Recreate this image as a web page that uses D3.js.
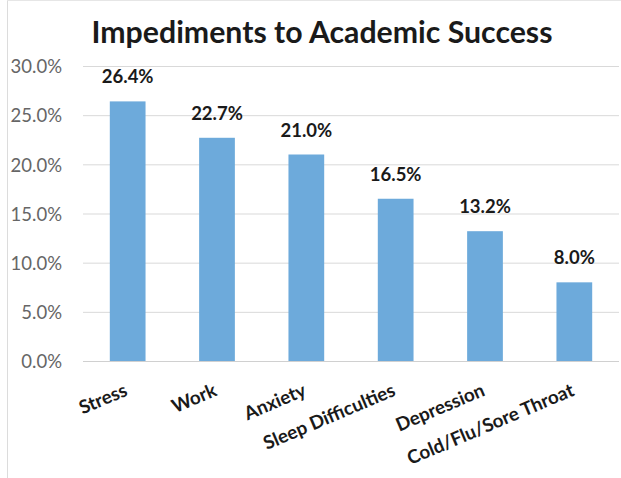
<!DOCTYPE html>
<html><head><meta charset="utf-8">
<script src="https://cdn.jsdelivr.net/npm/d3@7/dist/d3.min.js"></script>
<style>
html,body{margin:0;padding:0;background:#fff;}
svg{display:block;font-family:Lato,"Open Sans",sans-serif;}
</style></head>
<body><svg id="chart" width="621" height="478"></svg>
<script>
const title = "Impediments to Academic Success";
const categories = ["Stress","Work","Anxiety","Sleep Difficulties","Depression","Cold/Flu/Sore Throat"];
const values = [26.4,22.7,21.0,16.5,13.2,8.0];
const yTicks = [0,5,10,15,20,25,30];

const svg = d3.select("#chart");
const W = 621, H = 478;
const m = {left:83, right:2, top:66, bottom:117};

// frame
svg.append("line").attr("x1",7.5).attr("x2",7.5).attr("y1",0).attr("y2",H)
  .attr("stroke","#dcdcdc").attr("stroke-width",1);
svg.append("line").attr("x1",7).attr("x2",W).attr("y1",0.5).attr("y2",0.5)
  .attr("stroke","#e6e6e6").attr("stroke-width",1);

const x = d3.scaleBand().domain(categories).range([m.left, W - m.right]).paddingInner(0.6).paddingOuter(0.3);
const y = d3.scaleLinear().domain([0,30]).range([H - m.bottom, m.top]);

// gridlines + y labels
const yAxis = d3.axisLeft(y).tickValues(yTicks).tickSize(-(W - m.right - m.left)).tickFormat(d => d.toFixed(1) + "%").tickPadding(21);
const gy = svg.append("g").attr("transform",`translate(${m.left},0)`).call(yAxis);
gy.select(".domain").remove();
gy.selectAll(".tick line").attr("stroke","#d9d9d9").attr("stroke-width",1);
gy.selectAll(".tick text").attr("fill","#666666").style("font-size","18.5px").style("font-family","Lato, sans-serif").attr("dy","0.36em");

// bars
svg.append("g").selectAll("rect").data(values).join("rect")
  .attr("x",(d,i)=>x(categories[i]))
  .attr("width",x.bandwidth())
  .attr("y",d=>y(d))
  .attr("height",d=>y(0)-y(d))
  .attr("fill","#6daadb");

// baseline
svg.append("line").attr("x1",m.left).attr("x2",W-m.right).attr("y1",y(0)+0.5).attr("y2",y(0)+0.5)
  .attr("stroke","#d0d0d0").attr("stroke-width",1);

// value labels
svg.append("g").selectAll("text").data(values).join("text")
  .attr("x",(d,i)=>x(categories[i]) + x.bandwidth()/2)
  .attr("y",d=>y(d) - 18)
  .attr("text-anchor","middle")
  .attr("fill","#1a1a1a")
  .style("font-weight","700").style("font-size","18.5px")
  .text(d=>d.toFixed(1)+"%");

// category labels
svg.append("g").selectAll("text").data(categories).join("text")
  .attr("text-anchor","end")
  .attr("transform",d=>`translate(${x(d)+x.bandwidth()/2+1},${y(0)+34}) rotate(-23)`)
  .attr("fill","#1a1a1a")
  .style("font-weight","700").style("font-size","18.8px")
  .text(d=>d);

// title
const t = svg.append("text").attr("x",322).attr("y",43).attr("text-anchor","middle")
  .attr("fill","#1a1a1a").style("font-weight","700").style("font-size","30px").text(title);
const tw = t.node().getComputedTextLength();
t.style("font-size", (30*461/tw).toFixed(2)+"px");
</script></body></html>
